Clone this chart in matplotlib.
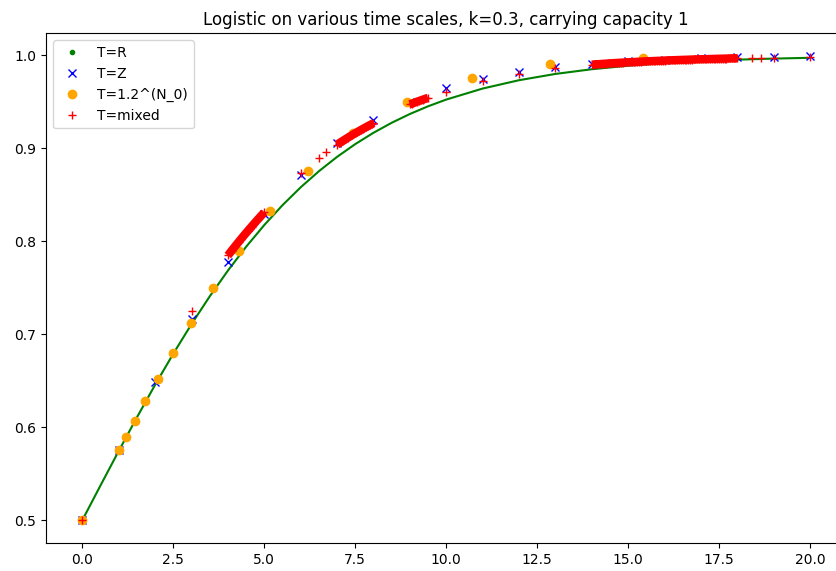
#!/usr/bin/env python3
import numpy as np
import matplotlib
matplotlib.use("Agg")
import matplotlib.pyplot as plt

# T = R : continuous logistic curve
t_real = [0, 0.5, 1, 1.5, 2, 2.5, 3, 3.5, 4, 4.5, 5, 5.5, 6, 6.5, 7, 7.5, 8, 8.5,
          9, 9.5, 10, 11, 12, 13, 14, 15, 16, 17, 18, 19, 20]
x_real = [0.5, 0.53743, 0.574443, 0.610639, 0.645656, 0.679179, 0.710949,
          0.740775, 0.768525, 0.79413, 0.817574, 0.83891, 0.858149, 0.875444,
          0.890903, 0.904651, 0.916827, 0.927573, 0.937027, 0.945319, 0.952574,
          0.964429, 0.973403, 0.98016, 0.985226, 0.989013, 0.991837, 0.99394,
          0.995503, 0.996665, 0.997527]

# T = Z
t_int = list(range(21))
x_int = [0.5, 0.575, 0.648313, 0.716718, 0.777628, 0.829505, 0.871933, 0.905433,
         0.93112, 0.950361, 0.964514, 0.974782, 0.982157, 0.987414, 0.991142,
         0.993776, 0.995632, 0.996937, 0.997853, 0.998496, 0.998946]

# T = {0} U {1.2^n}
t_geom = [0, 1, 1.2, 1.44, 1.728, 2.0736, 2.48832, 2.985984, 3.583181, 4.299817,
          5.15978, 6.191736, 7.430084, 8.9161, 10.69932, 12.839185, 15.407022]
x_geom = [0.5, 0.575, 0.589663, 0.607084, 0.627693, 0.651922, 0.680155, 0.712634,
          0.749323, 0.789706, 0.83255, 0.87571, 0.916145, 0.950393, 0.975614,
          0.990887, 0.997843]

# T = mixed : isolated points plus dense runs on [4,5], [7,8], [9,9.5], [14,18]
t_mix_pts = [0, 3, 6, 6.5, 6.7, 10, 11, 12, 13, 18.4, 18.65, 19, 20]
x_mix_pts = [0.5, 0.725, 0.873267, 0.889868, 0.895748, 0.960951, 0.972208,
             0.980314, 0.986103, 0.997387, 0.997582, 0.997835, 0.998483]

x_mix_4_5 = [0.784813, 0.787335, 0.789835, 0.792315, 0.794772, 0.797208, 0.799622,
             0.802015, 0.804386, 0.806734, 0.809063, 0.81137, 0.813654, 0.815918,
             0.81816, 0.820382, 0.822581, 0.824759, 0.826917, 0.829054, 0.831169]
x_mix_7_8 = [0.904153, 0.905443, 0.90672, 0.907981, 0.909226, 0.910458, 0.911673,
             0.912874, 0.914059, 0.915231, 0.916387, 0.91753, 0.918657, 0.919771,
             0.920871, 0.921957, 0.923029, 0.924089, 0.925134, 0.926167, 0.927186]
x_mix_9_95 = [0.94744, 0.948182, 0.948914, 0.949636, 0.95035, 0.951053, 0.951746,
              0.95243, 0.953105, 0.953771, 0.954427]
x_mix_14_18 = [0.990215, 0.990359, 0.990501, 0.990641, 0.99078, 0.990915, 0.99105,
               0.991181, 0.991312, 0.99144, 0.991566, 0.99169, 0.991813, 0.991934,
               0.992053, 0.99217, 0.992286, 0.992401, 0.992513, 0.992623, 0.992733,
               0.99284, 0.992946, 0.99305, 0.993153, 0.993254, 0.993354, 0.993452,
               0.993549, 0.993644, 0.993739, 0.993832, 0.993922, 0.994012, 0.994101,
               0.994188, 0.994274, 0.994359, 0.994442, 0.994525, 0.994605, 0.994686,
               0.994764, 0.994842, 0.994918, 0.994993, 0.995068, 0.995141, 0.995212,
               0.995284, 0.995354, 0.995422, 0.995491, 0.995557, 0.995622, 0.995688,
               0.995751, 0.995815, 0.995876, 0.995938, 0.995998, 0.996058, 0.996116,
               0.996174, 0.99623, 0.996286, 0.996342, 0.996395, 0.996449, 0.996501,
               0.996554, 0.996605, 0.996655, 0.996705, 0.996754, 0.996802, 0.996849,
               0.996896, 0.996942, 0.996987, 0.997032]

# sample grid of the continuous parts of the mixed time scale
runs = [(4, 5, x_mix_4_5), (7, 8, x_mix_7_8), (9, 9.5, x_mix_9_95), (14, 18, x_mix_14_18)]
t_mix = list(t_mix_pts)
x_mix = list(x_mix_pts)
run_t = []
for a, b, vals in runs:
    tt = list(np.linspace(a, b, len(vals)))
    run_t.append(tt)
    t_mix += tt
    x_mix += vals

fig = plt.figure(figsize=(8.36, 5.71), dpi=100)
ax = fig.add_axes([0.055, 0.0485, 0.9575, 0.8932])

ax.plot(t_real, x_real, color="green", lw=1.5)
ax.plot([], [], "g.", label="T=R")
ax.plot(t_int, x_int, "bx", label="T=Z")
ax.plot(t_geom, x_geom, "o", color="orange", label="T=1.2^(N_0)")
# the dense + marks of the continuous runs merge into a solid band
for tt, (a, b, vals) in zip(run_t, runs):
    ax.plot(tt, vals, color="red", lw=6, solid_capstyle="butt")
ax.plot(t_mix, x_mix, "r+", label="T=mixed")

ax.set_xlim(-1, 21)
ax.set_ylim(0.47505, 1.0239)
ax.set_title("Logistic on various time scales, k=0.3, carrying capacity 1")
ax.legend(loc="upper left")

fig.savefig("out.png")
